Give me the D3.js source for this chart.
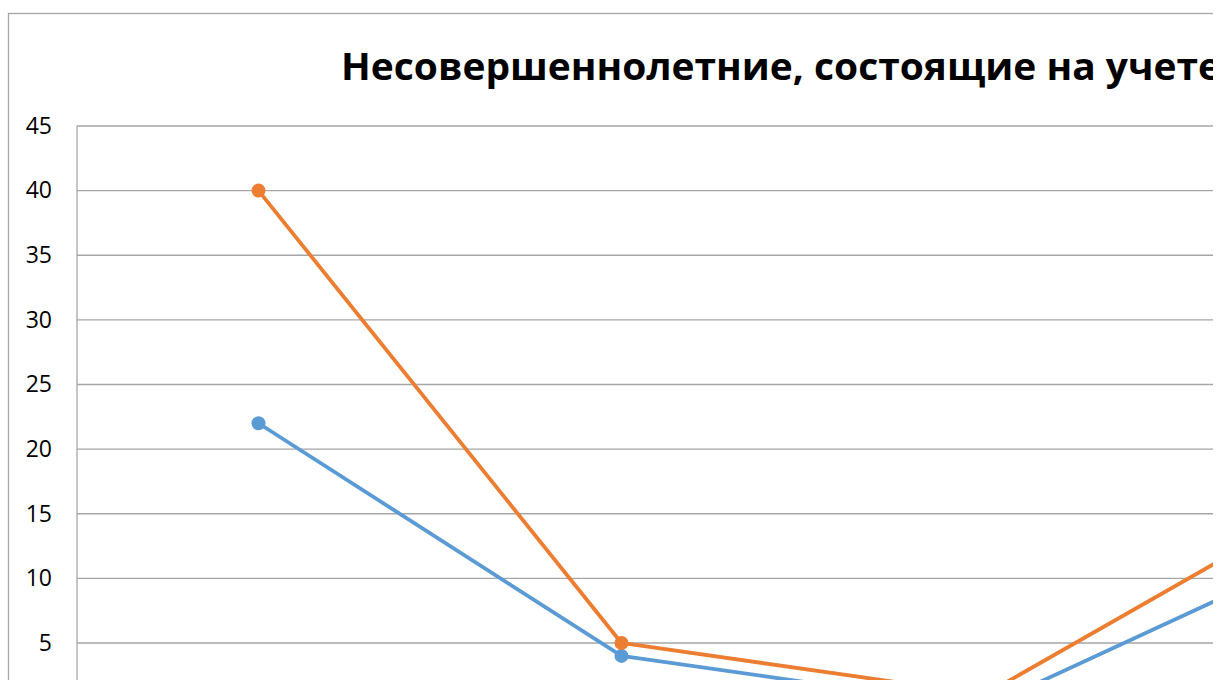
<!DOCTYPE html>
<html><head><meta charset="utf-8">
<script src="https://cdn.jsdelivr.net/npm/d3@7"></script>
<style>html,body{margin:0;padding:0;background:#fff;overflow:hidden}</style>
</head><body>
<svg id="c" width="1218" height="680"></svg>
<script>
const categories = ["2014", "2015", "2016", "2017"];
const seriesNames = ["Ряд 1", "Ряд 2"];
const seriesBlue = [22, 4, 0, 13];
const seriesOrange = [40, 5, 1, 17];
const yTicks = [0, 5, 10, 15, 20, 25, 30, 35, 40, 45];
const yLabels = [5, 10, 15, 20, 25, 30, 35, 40, 45];
const title = "Несовершеннолетние, состоящие на учете";
const colors = ["#5B9BD5", "#ED7D31"];

const svg = d3.select("#c");
svg.append("defs").append("clipPath").attr("id","vis")
  .append("rect").attr("x",0).attr("y",0).attr("width",1213).attr("height",680);
const g = svg.append("g").attr("clip-path","url(#vis)");

// chart border
g.append("rect").attr("x",8.5).attr("y",13.5).attr("width",1600).attr("height",900)
  .attr("fill","#fff").attr("stroke","#a6a6a6").attr("stroke-width",1.3);

const x = d3.scaleBand().domain(categories).range([77, 77 + 363*categories.length]);
const y = d3.scaleLinear().domain([0,45]).range([707.6, 126]);

// gridlines
g.append("g").selectAll("line").data(yTicks).join("line")
  .attr("x1",77).attr("x2",77 + 363*categories.length)
  .attr("y1",d=>y(d)).attr("y2",d=>y(d))
  .attr("stroke","#a6a6a6").attr("stroke-width",1.3);

// left axis line
g.append("line").attr("x1",77).attr("x2",77).attr("y1",y(45)).attr("y2",y(0))
  .attr("stroke","#a6a6a6").attr("stroke-width",1.3);

// y axis labels
const yAxis = d3.axisLeft(y).tickValues(yLabels).tickSize(0).tickPadding(25);
const ya = g.append("g").attr("transform","translate(77,0)").call(yAxis);
ya.select(".domain").remove();
ya.selectAll("text").attr("font-family","'Open Sans', sans-serif").attr("font-size",23).attr("fill","#000");

// title
g.append("text").attr("x",341).attr("y",80)
  .attr("font-family","'Open Sans', sans-serif").attr("font-weight","bold")
  .attr("font-size",38).attr("fill","#000")
  .attr("textLength",880).attr("lengthAdjust","spacingAndGlyphs")
  .text(title);

const cx = d => x(d) + x.bandwidth()/2;
const line = d3.line().x((d,i)=>cx(categories[i])).y(d=>y(d));
[seriesBlue, seriesOrange].forEach((s,k)=>{
  g.append("path").datum(s).attr("d",line).attr("fill","none")
    .attr("stroke",colors[k]).attr("stroke-width",3.8).attr("stroke-linejoin","round");
  g.append("g").selectAll("circle").data(s).join("circle")
    .attr("cx",(d,i)=>cx(categories[i])).attr("cy",d=>y(d)).attr("r",7)
    .attr("fill",colors[k]);
});
</script>
</body></html>
